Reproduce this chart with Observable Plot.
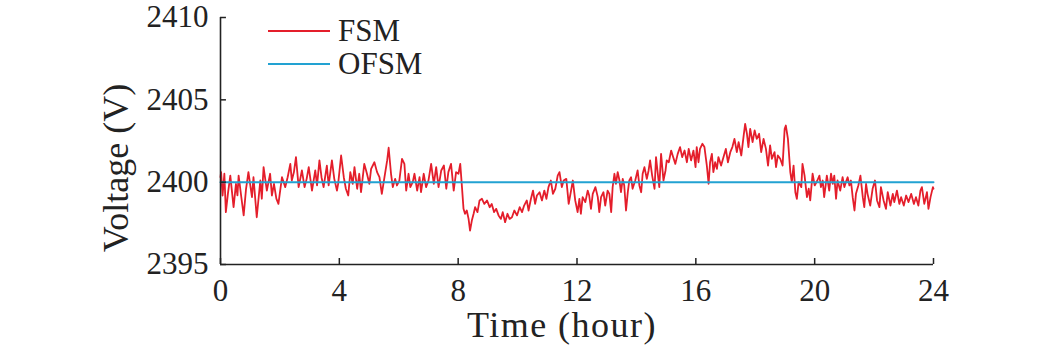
<!DOCTYPE html>
<html><head><meta charset="utf-8">
<script src="https://cdn.jsdelivr.net/npm/d3@7"></script>
<script src="https://cdn.jsdelivr.net/npm/@observablehq/plot@0.6"></script>
<style>
body{margin:0;background:#fff;}
#wrap{position:relative;width:1040px;height:347px;font-family:"Liberation Serif","Times New Roman",serif;color:#222;}
.leg{position:absolute;left:268px;height:34px;display:flex;align-items:center;font-size:31px;line-height:34px;}
.leg .sw{display:inline-block;width:62px;height:2px;margin-right:8px;}
.lab{position:absolute;font-size:36px;white-space:nowrap;line-height:40px;}
</style></head><body><div id="wrap"></div>
<script>
const fsmHours = [
0.00,0.02,0.07,0.13,0.18,0.25,0.33,0.44,0.52,0.57,0.61,0.70,0.78,0.86,0.94,1.06,1.11,1.22,1.34,1.39,1.45,1.56,1.67,1.73,1.80,1.88,1.95,2.01,2.07,2.18,2.26,2.35,2.40,2.47,2.54,2.63,2.74,2.83,2.90,2.97,3.08,3.19,3.25,3.33,3.40,3.47,3.58,3.64,3.75,3.83,3.92,
3.96,4.06,4.15,4.22,4.30,4.37,4.45,4.51,4.60,4.67,4.73,4.84,4.93,5.01,5.07,5.18,5.27,5.35,5.43,5.52,5.61,5.66,5.74,5.80,5.88,5.94,6.02,6.11,6.19,6.25,6.33,6.39,6.47,6.53,6.62,6.70,6.75,6.84,6.92,7.00,7.09,7.18,7.26,7.34,7.43,7.52,7.60,7.67,7.76,7.85,7.93,
8.01,8.07,8.12,8.18,8.23,8.29,8.35,8.40,8.46,8.52,8.57,8.65,8.72,8.80,8.88,8.97,9.06,9.13,9.21,9.28,9.36,9.44,9.50,9.58,9.66,9.73,9.81,9.89,9.98,10.07,10.15,10.22,10.31,10.37,10.45,10.52,10.59,10.65,10.74,10.82,10.90,10.97,11.04,11.12,11.19,11.27,11.35,11.41,11.49,11.55,11.64,11.72,11.80,11.86,11.94,12.02,
12.08,12.13,12.19,12.28,12.36,12.41,12.47,12.53,12.62,12.70,12.75,12.81,12.89,12.95,13.03,13.09,13.15,13.20,13.26,13.31,13.37,13.43,13.48,13.54,13.59,13.65,13.71,13.76,13.82,13.87,13.96,14.04,14.10,14.16,14.21,14.27,14.35,14.41,14.46,14.53,14.61,14.66,14.72,14.77,14.83,14.91,14.98,15.02,15.09,15.17,15.22,15.31,15.39,15.47,15.54,15.62,15.70,15.76,15.84,15.92,15.99,
16.03,16.09,16.14,16.22,16.29,16.37,16.43,16.48,16.54,16.59,16.65,16.71,16.76,16.85,16.93,17.01,17.08,17.16,17.23,17.30,17.38,17.44,17.53,17.61,17.66,17.72,17.77,17.83,17.91,17.98,18.05,18.13,18.20,18.28,18.36,18.43,18.50,18.56,18.65,18.70,18.76,18.84,18.92,18.99,19.03,19.10,19.18,19.23,19.29,19.35,19.40,19.46,19.55,19.59,19.66,19.74,19.80,19.85,19.93,20.00,20.09,
20.16,20.21,20.27,20.32,20.41,20.49,20.55,20.61,20.66,20.72,20.77,20.86,20.94,21.00,21.05,21.11,21.17,21.22,21.28,21.34,21.39,21.47,21.54,21.62,21.67,21.73,21.78,21.87,21.95,22.03,22.10,22.18,22.23,22.32,22.40,22.46,22.55,22.63,22.68,22.77,22.85,22.91,23.00,23.08,23.16,23.25,23.34,23.41,23.49,23.56,23.61,23.69,23.78,23.83,23.90,23.98,24.00
];
const fsmVolts = [
2400.30,2400.61,2399.19,2400.51,2398.18,2399.30,2400.40,2398.48,2399.90,2399.20,2400.40,2399.10,2397.98,2399.60,2400.61,2399.09,2400.30,2397.87,2400.10,2398.99,2400.91,2399.49,2400.51,2399.19,2399.90,2399.00,2398.68,2399.50,2400.30,2399.70,2400.30,2401.11,2400.10,2400.60,2401.52,2399.70,2400.71,2399.70,2400.20,2400.91,2399.49,2400.71,2399.80,2401.32,2400.30,2399.70,2401.01,2399.80,2401.32,2400.20,2399.49,
2399.90,2401.62,2400.30,2399.60,2399.19,2400.61,2399.90,2400.91,2399.60,2400.51,2399.39,2401.11,2400.51,2399.90,2400.81,2401.21,2400.61,2400.30,2399.29,2400.30,2401.32,2402.09,2400.51,2399.70,2400.20,2399.80,2400.10,2401.42,2401.11,2399.49,2400.51,2399.70,2400.00,2400.51,2399.49,2400.30,2399.39,2400.51,2399.70,2400.10,2401.11,2399.90,2400.91,2399.70,2400.71,2401.01,2399.60,2400.61,2401.11,2399.49,2400.61,
2400.51,2401.11,2399.90,2398.38,2398.08,2398.28,2397.77,2397.06,2397.67,2398.08,2398.48,2398.18,2398.89,2398.99,2398.68,2398.89,2398.48,2398.68,2398.18,2398.38,2397.98,2397.77,2398.18,2397.57,2398.08,2397.77,2397.87,2398.28,2397.98,2398.48,2398.18,2398.58,2398.89,2398.28,2398.99,2399.49,2398.68,2399.19,2399.39,2398.89,2399.49,2398.99,2399.70,2400.10,2399.29,2399.60,2400.40,2400.61,2399.70,2400.10,2400.20,2398.68,2399.49,2400.10,2398.89,2398.18,
2398.99,2398.08,2399.09,2398.79,2399.49,2399.19,2398.38,2399.29,2399.70,2399.09,2398.18,2399.09,2399.39,2398.58,2399.49,2399.29,2398.18,2399.70,2400.51,2399.90,2400.61,2400.10,2399.39,2400.20,2399.80,2398.28,2399.39,2400.10,2400.30,2399.60,2400.10,2400.71,2399.80,2399.39,2400.51,2400.91,2400.20,2400.71,2401.32,2400.40,2399.60,2401.52,2400.51,2399.70,2401.72,2400.10,2400.71,2401.32,2401.21,2401.92,2401.62,2401.11,2401.72,2402.13,2401.52,2401.92,2401.21,2402.02,2401.32,2401.92,2400.91,
2402.13,2401.21,2402.02,2402.33,2402.13,2401.01,2399.90,2401.21,2401.72,2400.61,2401.21,2400.81,2401.52,2401.01,2401.52,2402.02,2401.21,2401.82,2402.13,2402.63,2401.82,2402.43,2401.62,2402.83,2403.54,2402.94,2402.13,2403.24,2402.43,2403.14,2402.63,2402.94,2401.82,2402.63,2402.02,2401.01,2402.23,2401.42,2401.82,2400.91,2401.62,2401.42,2401.01,2403.24,2403.44,2402.63,2400.61,2400.00,2401.01,2399.39,2398.99,2400.00,2399.70,2401.11,2400.40,2399.09,2399.60,2398.89,2400.51,2399.80,2400.10,
2400.40,2399.70,2400.10,2399.09,2400.40,2399.49,2400.51,2399.90,2400.40,2398.99,2400.10,2399.49,2400.30,2399.70,2400.00,2400.30,2399.80,2400.10,2399.09,2398.28,2399.29,2399.80,2400.40,2399.09,2398.48,2399.90,2399.29,2398.58,2399.60,2400.10,2398.89,2398.48,2399.70,2398.89,2398.38,2399.39,2398.58,2399.29,2398.79,2399.49,2398.68,2399.09,2398.58,2399.19,2398.79,2399.29,2398.68,2399.09,2398.58,2399.49,2399.70,2398.68,2399.39,2398.38,2399.09,2399.70,2399.60
];
const ofsmHours = [0, 24];
const ofsmVolts = [2400, 2400];
const xTicks = [0, 4, 8, 12, 16, 20, 24];
const yTicks = [2395, 2400, 2405, 2410];
const seriesNames = ["FSM", "OFSM"];
const seriesColors = ["#e41e2b", "#22a2d2"];
const xLabel = "Time (hour)";
const yLabel = "Voltage (V)";

const fsm = fsmHours.map((h, i) => ({h, v: fsmVolts[i]}));
const ofsm = ofsmHours.map((h, i) => ({h, v: ofsmVolts[i]}));

const chart = Plot.plot({
  width: 1040, height: 347,
  marginLeft: 220, marginRight: 107, marginTop: 17, marginBottom: 83,
  style: {fontFamily: '"Liberation Serif","Times New Roman",serif', fontSize: "31px", color: "#222", background: "#fff"},
  x: {domain: [0, 24]},
  y: {domain: [2395, 2410]},
  marks: [
    Plot.line(fsm, {x: "h", y: "v", stroke: seriesColors[0], strokeWidth: 1.8}),
    Plot.line(ofsm, {x: "h", y: "v", stroke: seriesColors[1], strokeWidth: 2}),
    Plot.ruleX(xTicks, {x: d => d, insetTop: 241, stroke: "#222", strokeWidth: 1.5}),
    Plot.ruleY(yTicks, {y: d => d, x1: 0, x2: 0.2, stroke: "#222", strokeWidth: 1.5}),
    Plot.ruleX([0], {stroke: "#222", strokeWidth: 1.6}),
    Plot.ruleY([2395], {stroke: "#222", strokeWidth: 1.6}),
    Plot.axisX(xTicks, {tickSize: 0, tickPadding: 14, label: null, fontSize: 31, tickFormat: d => String(d)}),
    Plot.axisY(yTicks, {tickSize: 0, tickPadding: 12, label: null, fontSize: 31, tickFormat: d => String(d)})
  ]
});
const wrap = document.getElementById("wrap");
wrap.appendChild(chart);
seriesNames.forEach((name, i) => {
  const d = document.createElement("div");
  d.className = "leg";
  d.style.top = (14 + i * 33) + "px";
  d.innerHTML = `<span class="sw" style="background:${seriesColors[i]}"></span><span>${name}</span>`;
  wrap.appendChild(d);
});
const xl = document.createElement("div");
xl.className = "lab";
xl.textContent = xLabel;
xl.style.letterSpacing = "1.5px";
xl.style.left = "562px"; xl.style.top = "325px";
xl.style.transform = "translate(-50%,-50%)";
wrap.appendChild(xl);
const yl = document.createElement("div");
yl.className = "lab";
yl.textContent = yLabel;
yl.style.left = "116px"; yl.style.top = "168px";
yl.style.transform = "translate(-50%,-50%) rotate(-90deg)";
wrap.appendChild(yl);
</script>
</body></html>
